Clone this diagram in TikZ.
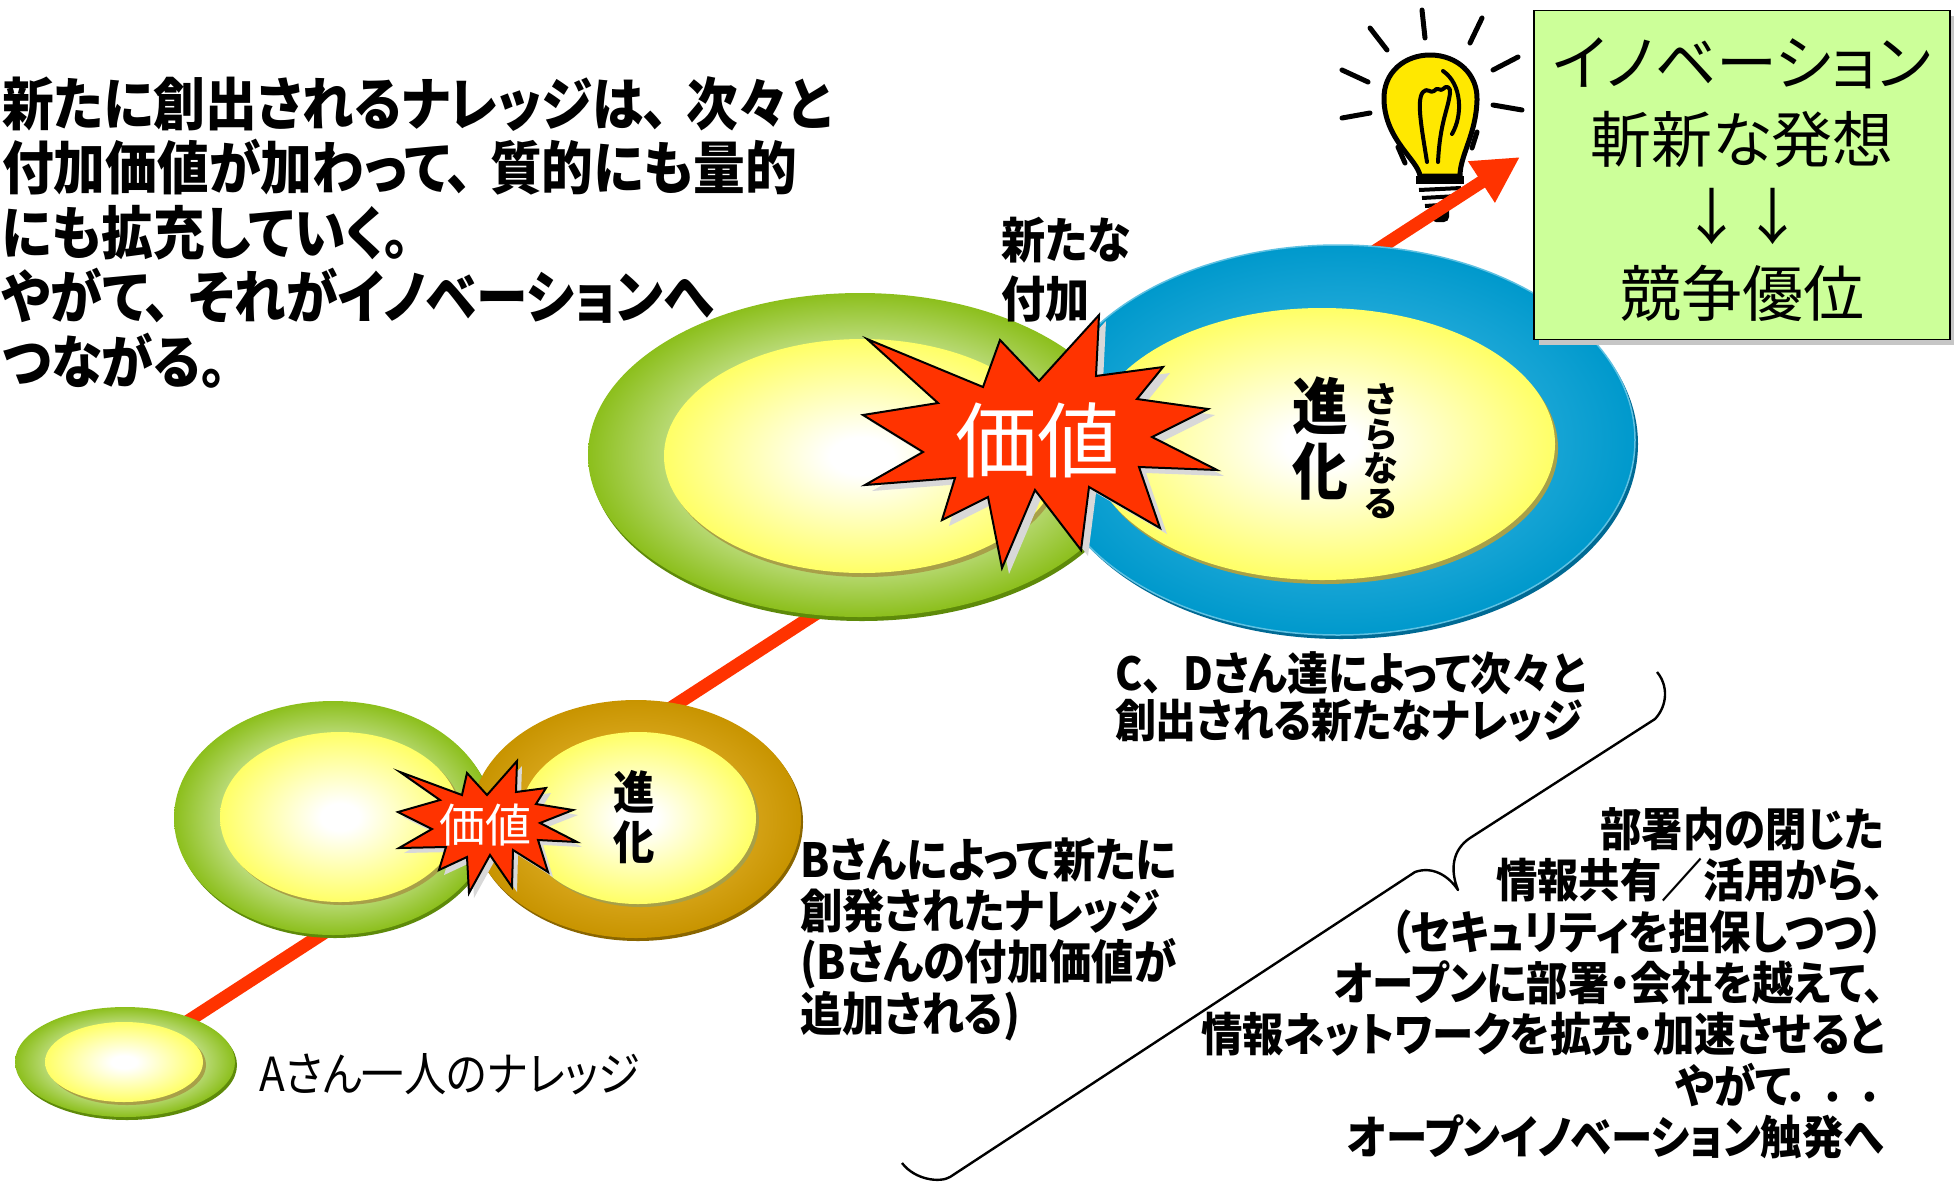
\documentclass[tikz,border=0pt]{standalone}
\usepackage{fontspec}
\newfontfamily\jp[RawFeature=+palt]{Noto Sans CJK JP}
\newfontfamily\jpn[FakeStretch=0.9,RawFeature=+palt]{Noto Sans CJK JP}
\newcommand\tn[1][0.3em]{、\hspace{#1}}
\newcommand\dotgap{\hspace{0.35em}}
\usetikzlibrary{arrows.meta,shapes.geometric,shadows}

\definecolor{burstred}{HTML}{FF3300}
\definecolor{ylw}{HTML}{FFFF66}
\definecolor{grnD}{HTML}{8CBF1C}
\definecolor{grnL}{HTML}{BEDD80}
\definecolor{grnS}{HTML}{5E8A0A}
\definecolor{goldD}{HTML}{C89400}
\definecolor{goldL}{HTML}{D6A419}
\definecolor{goldS}{HTML}{8A6600}
\definecolor{blueR}{HTML}{0099CC}
\definecolor{blueL}{HTML}{1AA6D6}
\definecolor{blueS}{HTML}{006A94}
\definecolor{olv}{HTML}{A8A048}
\definecolor{boxg}{HTML}{CCFF99}
\definecolor{bulby}{HTML}{FFE800}
\definecolor{shgrey}{HTML}{D8D8D8}

\pgfdeclareradialshading{ringgreen}{\pgfpointorigin}{color(0bp)=(grnL); color(17bp)=(grnL); color(25bp)=(grnD); color(50bp)=(grnD)}
\pgfdeclareradialshading{ringgold}{\pgfpointorigin}{color(0bp)=(goldL); color(17bp)=(goldL); color(25bp)=(goldD); color(50bp)=(goldD)}
\pgfdeclareradialshading{ringblue}{\pgfpointorigin}{color(0bp)=(blueL); color(17bp)=(blueL); color(25bp)=(blueR); color(50bp)=(blueR)}
\pgfdeclareradialshading{innerylw}{\pgfpointorigin}{color(0bp)=(white); color(4bp)=(white); color(25bp)=(ylw); color(50bp)=(ylw)}

\begin{document}
\begin{tikzpicture}[x=1pt,y=-1pt,
  rim/.style={ellipse, inner sep=0pt, outer sep=0pt},
  txt/.style={inner sep=0pt, outer sep=0pt, text=black},
  ray/.style={line width=5pt, line cap=round},
  burst/.style={fill=burstred, draw=black, line width=2pt, line join=miter},
  burstshadow/.style={fill=shgrey},
  knowarrow/.style={draw=burstred, line width=13pt, -{Triangle[width=46pt,length=46pt]}},
  bracket/.style={draw=black, line width=2.4pt, line join=round},
]
\fill[white] (0,0) rectangle (1954,1181);
\path[use as bounding box] (0,0) rectangle (1954,1181);

% ---------- light bulb ----------
\foreach \a/\b in {{1422,10}/{1425,38},{1370,28}/{1387,50},{1482,18}/{1470,43},
  {1342,70}/{1368,82},{1518,57}/{1493,70},{1342,118}/{1370,113},{1493,105}/{1522,110},
  {1398,147}/{1405,163},{1477,132}/{1472,148}}
  \draw[ray] (\a) -- (\b);
\fill (1416,176) rectangle (1464,184);
\draw[line width=4pt] (1419,190) -- (1461,188) (1422,198) -- (1458,196) (1425,206) -- (1455,204);
\fill[rounded corners=5pt] (1431,206) rectangle (1449,222);
\draw[fill=bulby, line width=5pt, line join=round]
  (1420,176) .. controls (1418,160) and (1385,140) .. (1384,100)
  .. controls (1383,72) and (1405,55) .. (1430,55)
  .. controls (1458,55) and (1478,75) .. (1477,100)
  .. controls (1476,135) and (1460,155) .. (1460,176) -- cycle;
\draw[line width=4pt, line cap=round, line join=round]
  (1427,162) .. controls (1422,130) and (1416,100) .. (1423,92)
  .. controls (1427,87) and (1431,94) .. (1434,91)
  .. controls (1437,86) and (1441,92) .. (1443,89)
  .. controls (1446,85) and (1451,87) .. (1450,93)
  .. controls (1448,110) and (1440,122) .. (1438,162);
\draw[line width=4pt, line cap=round] (1443,71) .. controls (1462,84) and (1463,115) .. (1452,134);

% ---------- growth arrow (runs beneath the knowledge rings) ----------
\coordinate (tip) at (1520,157);
\coordinate (start) at (125,1062);
\draw[knowarrow] (start) -- (tip);

% ---------- knowledge rings ----------
% A
\node[rim, fill=grnS, minimum width=220, minimum height=110, xshift=2, yshift=-3] at (125,1062) {};
\node[rim, shading=ringgreen, minimum width=220, minimum height=110] (A) at (125,1062) {};
\node[rim, fill=olv, minimum width=158, minimum height=80, xshift=3, yshift=-3] at (124,1062) {};
\node[rim, shading=innerylw, minimum width=158, minimum height=80] (Ain) at (124,1062) {};
% B, left
\node[rim, fill=grnS, minimum width=318, minimum height=234, xshift=2, yshift=-3] at (333,818) {};
\node[rim, shading=ringgreen, minimum width=318, minimum height=234] (BL) at (333,818) {};
\node[rim, fill=olv, minimum width=240, minimum height=170, xshift=3, yshift=-3] at (340,817) {};
\node[rim, shading=innerylw, minimum width=240, minimum height=170] (BLin) at (340,817) {};
% B, right
\node[rim, fill=goldS, minimum width=330, minimum height=238, xshift=2, yshift=-3] at (636,819) {};
\node[rim, shading=ringgold, minimum width=330, minimum height=238] (BR) at (636,819) {};
\node[rim, fill=olv, minimum width=236, minimum height=172, xshift=3, yshift=-3] at (638,818) {};
\node[rim, shading=innerylw, minimum width=236, minimum height=172] (BRin) at (638,818) {};
% C
\node[rim, fill=grnS, minimum width=544, minimum height=324, xshift=2, yshift=-4] at (860,455) {};
\node[rim, shading=ringgreen, minimum width=544, minimum height=324] (C) at (860,455) {};
\node[rim, fill=olv, minimum width=396, minimum height=234, xshift=3, yshift=-4] at (862,456) {};
\node[rim, shading=innerylw, minimum width=396, minimum height=234] (Cin) at (862,456) {};
% D
\node[rim, fill=blueS, minimum width=594, minimum height=390, xshift=3, yshift=-4] at (1338,440) {};
\node[rim, shading=ringblue, draw=blueL!70!white, line width=1.5pt, minimum width=594, minimum height=390] (D) at (1338,440) {};
\node[rim, fill=olv, minimum width=466, minimum height=272, xshift=3, yshift=-4] at (1322,444) {};
\node[rim, shading=innerylw, minimum width=466, minimum height=272] (Din) at (1322,444) {};

% ---------- value bursts ----------
\def\bigburst{(867,339) -- (983,387) -- (1000,340) -- (1039,381) -- (1099,315) -- (1096,376)
  -- (1163,367) -- (1137,399) -- (1208,409) -- (1152,437) -- (1217,470) -- (1139,467)
  -- (1160,528) -- (1089,487) -- (1081,550) -- (1035,490) -- (1002,568) -- (988,497)
  -- (942,520) -- (955,478) -- (865,485) -- (923,452) -- (863,415) -- (938,403) -- cycle}
\def\smallburst{(400,772) -- (462,795) -- (467,773) -- (487,795) -- (517,761) -- (516,792)
  -- (546,788) -- (536,804) -- (573,810) -- (540,823) -- (577,842) -- (538,840)
  -- (548,872) -- (513,850) -- (512,887) -- (490,855) -- (469,893) -- (467,857)
  -- (439,870) -- (446,847) -- (399,848) -- (432,829) -- (398,812) -- (440,800) -- cycle}
\fill[burstshadow, xshift=7pt, yshift=-6pt] \bigburst;
\draw[burst] \bigburst;
\fill[burstshadow, xshift=5pt, yshift=-5pt] \smallburst;
\draw[burst] \smallburst;

\node[txt, text=white, font=\jp\fontsize{82}{82}\selectfont] (val1) at (1037,440) {価値};
\node[txt, text=white, font=\jp\fontsize{46}{46}\selectfont] (val2) at (485,825) {価値};

% ---------- labels inside rings ----------
\node[txt, align=center, font=\jpn\bfseries\fontsize{62}{65}\selectfont] (evo1) at (1320,438) {進\\化};
\node[txt, align=center, font=\jp\bfseries\fontsize{35}{34.5}\selectfont] (more) at (1381,451) {さ\\ら\\な\\る};
\node[txt, align=center, font=\jpn\bfseries\fontsize{46}{50}\selectfont] (evo2) at (634,817) {進\\化};

% ---------- innovation box ----------
\node[draw=black, line width=1.6pt, fill=boxg, minimum width=416, minimum height=329, inner sep=0pt,
  drop shadow={shadow xshift=5pt, shadow yshift=-5pt, fill=gray!45, opacity=1}]
  (inno) at (1742,175) {};
\node[txt, align=center, font=\jp\fontsize{61}{77}\selectfont] (innotext) at (1742,180)
  {イノベーション\\斬新な発想\\↓↓\\競争優位};

% ---------- captions ----------
\node[txt, anchor=west, align=left, font=\jpn\bfseries\fontsize{57.5}{64.5}\selectfont] (intro) at (2,232)
  {新たに創出されるナレッジは\tn 次々と\\付加価値が加わって\tn 質的にも量的\\にも拡充していく。\\やがて\tn それがイノベーションへ\\つながる。};
\node[txt, anchor=west, align=left, font=\jpn\bfseries\fontsize{49}{59}\selectfont] (added) at (1001,270)
  {新たな\\付加};
\node[txt, anchor=west, align=left, font=\jpn\bfseries\fontsize{45.5}{47}\selectfont] (capC) at (1115,697)
  {C\tn[0.45em]Dさん達によって次々と\\創出される新たなナレッジ};
\node[txt, anchor=west, align=left, font=\jpn\bfseries\fontsize{47}{51.3}\selectfont] (capB) at (800,939)
  {Bさんによって新たに\\創発されたナレッジ\\(Bさんの付加価値が\\追加される)};
\node[txt, anchor=west, font=\jpn\fontsize{47}{50}\selectfont] (capA) at (259,1074) {Aさん一人のナレッジ};
\node[txt, anchor=east, align=right, font=\jpn\bfseries\fontsize{46}{51.3}\selectfont] (open) at (1884,983)
  {部署内の閉じた\\情報共有／活用から、\\（セキュリティを担保しつつ）\\オープンに部署・会社を越えて、\\情報ネットワークを拡充・加速させると\\やがて．\dotgap．\dotgap．\hspace{0.3em}\\オープンイノベーション触発へ};

% ---------- brace linking the notes ----------
\coordinate (brTop) at (1657,672);
\coordinate (brTip) at (1458,890);
\coordinate (brEnd) at (902,1163);
\draw[bracket] (brTop) .. controls (1668,685) and (1668,705) .. (1655,719) -- (1470,838)
  .. controls (1452,850) and (1450,870) .. (brTip)
  .. controls (1448,875) and (1432,866) .. (1415,872) -- (950,1177)
  .. controls (940,1183) and (915,1180) .. (brEnd);
\end{tikzpicture}
\end{document}
